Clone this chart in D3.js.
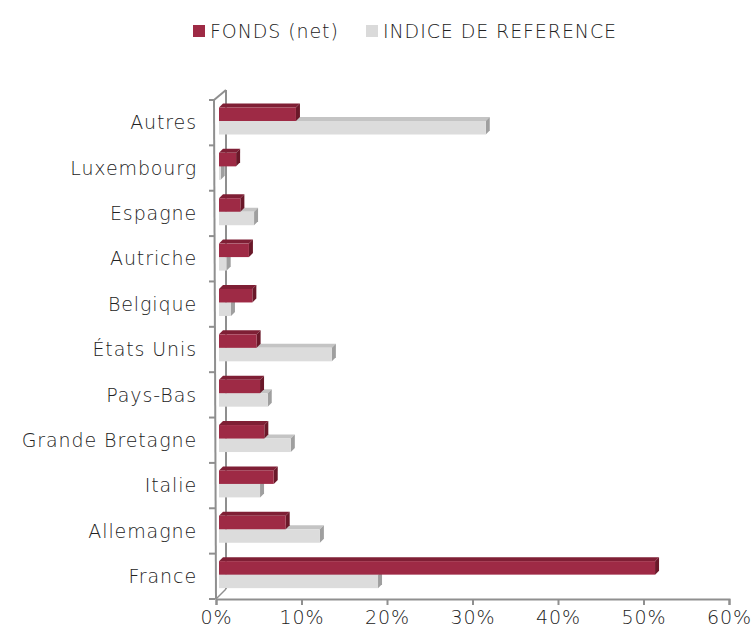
<!DOCTYPE html>
<html>
<head>
<meta charset="utf-8">
<script src="https://cdn.jsdelivr.net/npm/d3@7"></script>
<style>
  body { margin: 0; background: #fff; }
  svg text { font-family: "DejaVu Sans", sans-serif; font-weight: 200; fill: #222; letter-spacing: 0.9px; }
</style>
</head>
<body>
<svg id="chart" width="754" height="629"></svg>
<script>
var categories = ["Autres", "Luxembourg", "Espagne", "Autriche", "Belgique", "États Unis",
                  "Pays-Bas", "Grande Bretagne", "Italie", "Allemagne", "France"];
var fonds  = [9.0, 2.0, 2.5, 3.5, 3.9, 4.4, 4.8, 5.3, 6.4, 7.8, 51.0];
var indice = [31.2, 0.2, 4.1, 0.9, 1.4, 13.2, 5.7, 8.4, 4.8, 11.8, 18.6];
var xTicks = [0, 10, 20, 30, 40, 50, 60];
var seriesNames = ["FONDS (net)", "INDICE DE REFERENCE"];

var svg = d3.select("svg#chart");
var depth = 4;      // bar depth (3d look)
var wall = 10;      // floor / wall depth

var x = d3.scaleLinear().domain([0, 60]).range([216, 729]);
var y = d3.scaleBand().domain(categories).range([100, 599]);

var colors = {
  red:  {front: "#9e2a45", top: "#7f1f35", side: "#6a1829"},
  gray: {front: "#dcdcdc", top: "#c4c4c4", side: "#9f9f9f"}
};

// back wall + floor edges
var axisColor = "#8f8f8f";
svg.append("line").attr("x1", x(0) + wall).attr("x2", x(0) + wall)
   .attr("y1", y.range()[0] - wall).attr("y2", y.range()[1] - wall)
   .attr("stroke", axisColor).attr("stroke-width", 2);
svg.append("line").attr("x1", x(0) - 2).attr("x2", x(0) + wall)
   .attr("y1", y.range()[0]).attr("y2", y.range()[0] - wall)
   .attr("stroke", axisColor).attr("stroke-width", 2);
svg.append("line").attr("x1", x(0)).attr("x2", x(0) + wall)
   .attr("y1", y.range()[1]).attr("y2", y.range()[1] - wall)
   .attr("stroke", axisColor).attr("stroke-width", 1.5);

function drawBars(values, yOff, col) {
  var g = svg.append("g");
  var rows = g.selectAll("g").data(categories).enter().append("g");
  var h = 13.5;
  rows.each(function(c, i) {
    var x0 = x(0) + 3, x1 = x(values[i]) + 3;
    var t = y(c) + yOff, b = t + h;
    var row = d3.select(this);
    row.append("polygon")
       .attr("points", [[x0, t], [x0 + depth, t - depth], [x1 + depth, t - depth], [x1, t]].join(" "))
       .attr("fill", col.top);
    row.append("polygon")
       .attr("points", [[x1, t], [x1 + depth, t - depth], [x1 + depth, b - depth], [x1, b]].join(" "))
       .attr("fill", col.side);
    row.append("rect")
       .attr("x", x0).attr("y", t)
       .attr("width", Math.max(0, x1 - x0)).attr("height", h)
       .attr("fill", col.front);
  });
}

drawBars(indice, 21, colors.gray);
drawBars(fonds, 7.5, colors.red);

// front vertical axis
svg.append("line").attr("x1", x(0) - 2).attr("x2", x(0))
   .attr("y1", y.range()[0]).attr("y2", y.range()[1])
   .attr("stroke", axisColor).attr("stroke-width", 2);

// category boundary ticks
var bounds = categories.map(function(c) { return y(c); }).concat([y.range()[1]]);
svg.selectAll("line.ytick").data(bounds).enter().append("line")
   .attr("class", "ytick")
   .attr("x1", x(0) - 7).attr("x2", x(0) - 1)
   .attr("y1", function(d) { return d; }).attr("y2", function(d) { return d; })
   .attr("stroke", axisColor).attr("stroke-width", 2);

// category labels
svg.selectAll("text.cat").data(categories).enter().append("text")
   .attr("class", "cat")
   .attr("x", 197)
   .attr("y", function(d) { return y(d) + y.bandwidth() / 2; })
   .attr("dy", "0.35em")
   .attr("text-anchor", "end")
   .attr("font-size", 19)
   .text(function(d) { return d; });

// x axis
var xAxis = d3.axisBottom(x).tickValues(xTicks).tickSize(6)
              .tickFormat(function(d) { return d + "%"; });
var gx = svg.append("g").attr("transform", "translate(0," + y.range()[1] + ")").call(xAxis);
gx.select(".domain").attr("stroke", axisColor).attr("stroke-width", 2);
gx.selectAll(".tick line").attr("stroke", axisColor).attr("stroke-width", 2);
gx.selectAll(".tick text").attr("font-size", 19).attr("font-family", null)
  .attr("fill", "#222").attr("y", 12).attr("dy", "0.71em");

// legend
var legend = svg.append("g");
var legendX = [193, 366];
var legendCols = [colors.red.front, "#dadada"];
seriesNames.forEach(function(name, i) {
  legend.append("rect").attr("x", legendX[i]).attr("y", 25)
        .attr("width", 12).attr("height", 12).attr("fill", legendCols[i]);
  legend.append("text").attr("x", legendX[i] + 17).attr("y", 31)
        .attr("dy", "0.35em").attr("font-size", 19).text(name);
});
</script>
</body>
</html>
